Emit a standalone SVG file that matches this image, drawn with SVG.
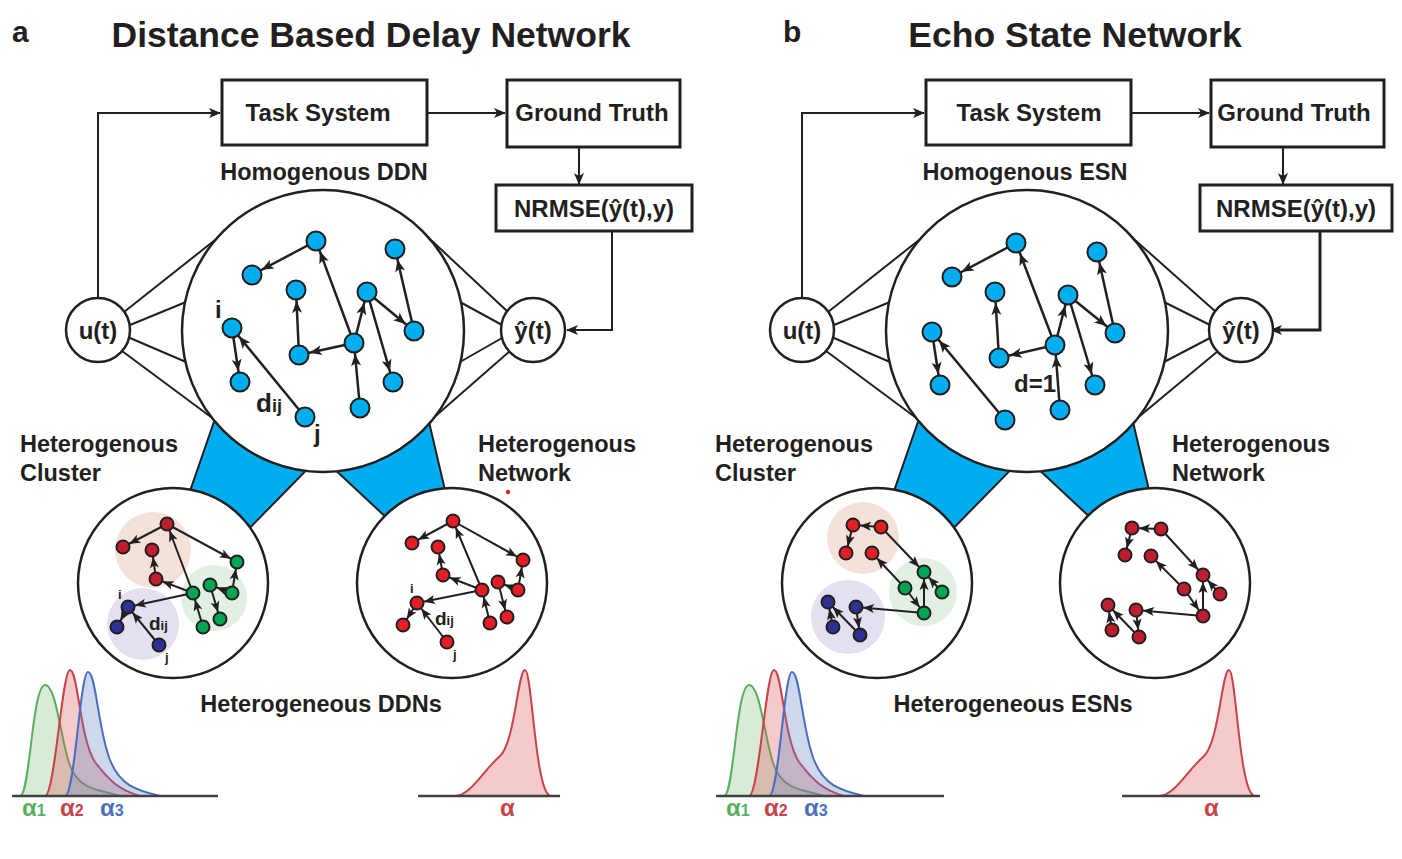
<svg xmlns="http://www.w3.org/2000/svg" width="1402" height="859" viewBox="0 0 1402 859">
<defs>
<style>
text{font-family:"Liberation Sans",Arial,sans-serif;font-weight:bold;fill:#231f20}
.t{font-size:35.5px}.lbl{font-size:30px}.bx{font-size:24px}.h{font-size:23.5px}
.box{fill:#fff;stroke:#231f20;stroke-width:3}
.ln{fill:none;stroke:#231f20;stroke-width:2}
.big{fill:#fff;stroke:#231f20;stroke-width:2.5}
.e{stroke:#231f20;stroke-width:2.5;marker-end:url(#ab)}
.es{stroke:#231f20;stroke-width:2;marker-end:url(#as)}
.nb{fill:#00aeef;stroke:#231f20;stroke-width:2}
.nr{fill:#e31e24;stroke:#231f20;stroke-width:2}
.nd{fill:#be1e2d;stroke:#231f20;stroke-width:2}
.ng{fill:#00a651;stroke:#231f20;stroke-width:2}
.nv{fill:#2e3192;stroke:#231f20;stroke-width:2}
.trap{fill:#00aeef;stroke:#231f20;stroke-width:2}
.al{font-size:24px}.sub{font-size:16px}
</style>
<marker id="ab" markerUnits="userSpaceOnUse" markerWidth="30" markerHeight="20" refX="23" refY="0" viewBox="-2 -8 30 16" orient="auto" overflow="visible"><path d="M0,-5 L12,0 L0,5 L3,0z" fill="#231f20"/></marker>
<marker id="as" markerUnits="userSpaceOnUse" markerWidth="30" markerHeight="20" refX="18" refY="0" viewBox="-2 -8 30 16" orient="auto" overflow="visible"><path d="M0,-4.5 L11,0 L0,4.5 L2.5,0z" fill="#231f20"/></marker>
<marker id="af" markerUnits="userSpaceOnUse" markerWidth="20" markerHeight="20" refX="11" refY="0" viewBox="-2 -8 20 16" orient="auto" overflow="visible"><path d="M0,-5 L12,0 L0,5 L3,0z" fill="#231f20"/></marker>
</defs>

<!-- PANEL A -->
<g id="panel-a">
<text x="12" y="42" class="lbl">a</text>
<text x="371" y="47" class="t" text-anchor="middle">Distance Based Delay Network</text>
<g id="connectors-a">
<polyline class="ln" points="98,298 98,113 220,113" marker-end="url(#af)"/>
<line class="ln" x1="427" y1="113" x2="505" y2="113" marker-end="url(#af)"/>
<line class="ln" x1="579" y1="147" x2="579" y2="184" marker-end="url(#af)"/>
<polyline class="ln" points="612,231 612,330 567,330" marker-end="url(#af)"/>
<line class="ln" x1="124" y1="312" x2="215" y2="240"/>
<line class="ln" x1="130" y1="325" x2="186" y2="302"/>
<line class="ln" x1="130" y1="338" x2="186" y2="362"/>
<line class="ln" x1="122" y1="351" x2="215" y2="420"/>
<line class="ln" x1="508" y1="312" x2="431" y2="240"/>
<line class="ln" x1="502" y1="325" x2="460" y2="302"/>
<line class="ln" x1="502" y1="338" x2="460" y2="362"/>
<line class="ln" x1="510" y1="351" x2="431" y2="420"/>
</g>
<g id="task-a"><rect class="box" x="222" y="80" width="205" height="65"/><text x="318" y="121" class="bx" text-anchor="middle">Task System</text></g>
<g id="gt-a"><rect class="box" x="507" y="80" width="173" height="67"/><text x="592" y="121" class="bx" text-anchor="middle">Ground Truth</text></g>
<g id="nrmse-a"><rect class="box" x="496" y="185" width="196" height="46"/><text x="594" y="217" class="bx" text-anchor="middle">NRMSE(ŷ(t),y)</text></g>
<path class="trap" d="M225,390 L330,446 L235,543 L180,520 Z"/>
<path class="trap" d="M316,452 L422,392 L452,520 L405,535 Z"/>
<g id="ddn-a"><circle class="big" cx="323" cy="331" r="141"/></g>
<g id="u-a"><circle class="big" cx="98" cy="330" r="32"/><text x="98" y="339" class="bx" text-anchor="middle">u(t)</text></g>
<g id="y-a"><circle class="big" cx="533" cy="330" r="32"/><text x="533" y="339" class="bx" text-anchor="middle">ŷ(t)</text></g>
<text x="324" y="180" class="h" text-anchor="middle">Homogenous DDN</text>
<g id="edges-a">
<line class="e" x1="316" y1="241" x2="252" y2="275"/>
<line class="e" x1="354" y1="343" x2="316" y2="241"/>
<line class="e" x1="299" y1="355" x2="296" y2="290"/>
<line class="e" x1="354" y1="343" x2="299" y2="355"/>
<line class="e" x1="354" y1="343" x2="367" y2="292"/>
<line class="e" x1="367" y1="292" x2="414" y2="331"/>
<line class="e" x1="414" y1="331" x2="395" y2="249"/>
<line class="e" x1="367" y1="292" x2="393" y2="382"/>
<line class="e" x1="360" y1="408" x2="354" y2="343"/>
<line class="e" x1="232" y1="328" x2="240" y2="382"/>
<line class="e" x1="305" y1="417" x2="232" y2="328"/>
</g>
<g id="nodes-a">
<circle class="nb" cx="316" cy="241" r="9.5"/><circle class="nb" cx="252" cy="275" r="9.5"/><circle class="nb" cx="296" cy="290" r="9.5"/>
<circle class="nb" cx="395" cy="249" r="9.5"/><circle class="nb" cx="367" cy="292" r="9.5"/><circle class="nb" cx="232" cy="328" r="9.5"/>
<circle class="nb" cx="240" cy="382" r="9.5"/><circle class="nb" cx="299" cy="355" r="9.5"/><circle class="nb" cx="354" cy="343" r="9.5"/>
<circle class="nb" cx="414" cy="331" r="9.5"/><circle class="nb" cx="393" cy="382" r="9.5"/><circle class="nb" cx="360" cy="408" r="9.5"/>
<circle class="nb" cx="305" cy="417" r="9.5"/>
</g>
<text x="215" y="318" class="bx">i</text>
<text x="256" y="412" style="font-size:26px">d<tspan style="font-size:18px">ij</tspan></text>
<text x="314" y="442" class="bx">j</text>
<text x="20" y="452" class="h">Heterogenous</text><text x="20" y="481" class="h">Cluster</text>
<text x="478" y="452" class="h">Heterogenous</text><text x="478" y="481" class="h">Network</text>
<circle cx="508" cy="492" r="2.2" fill="#e31e24"/>

<g id="cluster-a">
<circle class="big" cx="173" cy="583" r="95"/>
<circle cx="153" cy="550" r="38" fill="#f4e1da"/>
<circle cx="214" cy="598" r="33" fill="#e2f0e3"/>
<circle cx="143" cy="624" r="36" fill="#e1e1ef"/>
<line class="es" x1="167" y1="524" x2="123" y2="547"/>
<line class="es" x1="167" y1="524" x2="237" y2="562"/>
<line class="es" x1="193" y1="593" x2="167" y2="524"/>
<line class="es" x1="156" y1="579" x2="152" y2="550"/>
<line class="es" x1="193" y1="593" x2="156" y2="579"/>
<line class="es" x1="193" y1="593" x2="128" y2="607"/>
<line class="es" x1="128" y1="607" x2="117" y2="627"/>
<line class="es" x1="159" y1="645" x2="128" y2="607"/>
<line class="es" x1="203" y1="627" x2="193" y2="593"/>
<line class="es" x1="210" y1="585" x2="220" y2="619"/>
<line class="es" x1="232" y1="593" x2="210" y2="585"/>
<line class="es" x1="232" y1="593" x2="237" y2="562"/>
<circle class="nd" cx="167" cy="524" r="6.5"/><circle class="nd" cx="123" cy="547" r="6.5"/><circle class="nd" cx="152" cy="550" r="6.5"/><circle class="nd" cx="156" cy="579" r="6.5"/>
<circle class="ng" cx="237" cy="562" r="6.5"/><circle class="ng" cx="210" cy="585" r="6.5"/><circle class="ng" cx="232" cy="593" r="6.5"/><circle class="ng" cx="193" cy="593" r="6.5"/><circle class="ng" cx="203" cy="627" r="6.5"/><circle class="ng" cx="220" cy="619" r="6.5"/>
<circle class="nv" cx="128" cy="607" r="6.5"/><circle class="nv" cx="117" cy="627" r="6.5"/><circle class="nv" cx="159" cy="645" r="6.5"/>
<text x="118" y="599" style="font-size:13px">i</text>
<text x="149" y="630" style="font-size:19px">d<tspan style="font-size:13px">ij</tspan></text>
<text x="165" y="662" style="font-size:13px">j</text>
</g>

<g id="network-a">
<circle class="big" cx="452" cy="583" r="95"/>
<line class="es" x1="453" y1="521" x2="412" y2="543"/>
<line class="es" x1="453" y1="521" x2="523" y2="560"/>
<line class="es" x1="482" y1="590" x2="453" y2="521"/>
<line class="es" x1="443" y1="575" x2="438" y2="547"/>
<line class="es" x1="482" y1="590" x2="443" y2="575"/>
<line class="es" x1="482" y1="590" x2="417" y2="603"/>
<line class="es" x1="417" y1="603" x2="403" y2="625"/>
<line class="es" x1="447" y1="642" x2="417" y2="603"/>
<line class="es" x1="490" y1="623" x2="482" y2="590"/>
<line class="es" x1="498" y1="582" x2="507" y2="617"/>
<line class="es" x1="518" y1="590" x2="498" y2="582"/>
<line class="es" x1="518" y1="590" x2="523" y2="560"/>
<circle class="nr" cx="453" cy="521" r="6.5"/><circle class="nr" cx="412" cy="543" r="6.5"/><circle class="nr" cx="438" cy="547" r="6.5"/><circle class="nr" cx="443" cy="575" r="6.5"/>
<circle class="nr" cx="482" cy="590" r="6.5"/><circle class="nr" cx="523" cy="560" r="6.5"/><circle class="nr" cx="498" cy="582" r="6.5"/><circle class="nr" cx="518" cy="590" r="6.5"/>
<circle class="nr" cx="507" cy="617" r="6.5"/><circle class="nr" cx="417" cy="603" r="6.5"/><circle class="nr" cx="403" cy="625" r="6.5"/><circle class="nr" cx="490" cy="623" r="6.5"/><circle class="nr" cx="447" cy="642" r="6.5"/>
<text x="410" y="593" style="font-size:13px">i</text>
<text x="435" y="625" style="font-size:19px">d<tspan style="font-size:13px">ij</tspan></text>
<text x="453" y="659" style="font-size:13px">j</text>
</g>
<text x="321" y="712" class="h" text-anchor="middle">Heterogeneous DDNs</text>

<g id="dist-a">
<path d="M20,796 C30,796 32,686 45,685 C58,684 62,760 75,775 C85,790 100,790 120,796 Z" fill="#60b060" fill-opacity="0.25" stroke="#5aae61" stroke-width="2"/>
<path d="M45,796 C55,796 62,670 70,670 C78,670 80,740 95,762 C110,782 120,790 140,796 Z" fill="#d9534f" fill-opacity="0.3" stroke="#c9434a" stroke-width="2"/>
<path d="M65,796 C75,796 80,672 88,672 C96,672 98,730 110,760 C120,785 135,790 160,796 Z" fill="#5b7ec4" fill-opacity="0.3" stroke="#4a6fbf" stroke-width="2"/>
<line x1="12" y1="796" x2="218" y2="796" stroke="#414042" stroke-width="2.5"/>
<text x="22" y="816" class="al" style="fill:#5aae61">α<tspan class="sub">1</tspan></text>
<text x="60" y="816" class="al" style="fill:#c9434a">α<tspan class="sub">2</tspan></text>
<text x="100" y="816" class="al" style="fill:#4a6fbf">α<tspan class="sub">3</tspan></text>
<path d="M455,796 C470,796 482,772 500,756 C515,742 518,670 525,670 C532,670 535,790 550,796 Z" fill="#d9534f" fill-opacity="0.3" stroke="#c9434a" stroke-width="2"/>
<line x1="418" y1="796" x2="560" y2="796" stroke="#414042" stroke-width="2.5"/>
<text x="500" y="816" class="al" style="fill:#c9434a">α</text>
</g>
</g>

<!-- PANEL B -->
<g id="panel-b">
<text x="783" y="42" class="lbl">b</text>
<text x="1075" y="47" class="t" text-anchor="middle">Echo State Network</text>
<g transform="translate(704,0)">
<g id="connectors-b">
<polyline class="ln" points="98,298 98,113 220,113" marker-end="url(#af)"/>
<line class="ln" x1="427" y1="113" x2="505" y2="113" marker-end="url(#af)"/>
<line class="ln" x1="579" y1="147" x2="579" y2="184" marker-end="url(#af)"/>
<polyline class="ln" style="stroke-width:3" points="616,231 616,330 567,330" marker-end="url(#af)"/>
<line class="ln" x1="124" y1="312" x2="215" y2="240"/>
<line class="ln" x1="130" y1="325" x2="186" y2="302"/>
<line class="ln" x1="130" y1="338" x2="186" y2="362"/>
<line class="ln" x1="122" y1="351" x2="215" y2="420"/>
<line class="ln" x1="512" y1="312" x2="431" y2="240"/>
<line class="ln" x1="506" y1="325" x2="460" y2="302"/>
<line class="ln" x1="506" y1="338" x2="460" y2="362"/>
<line class="ln" x1="514" y1="351" x2="431" y2="420"/>
</g>
<g id="task-b"><rect class="box" x="222" y="80" width="205" height="65"/><text x="325" y="121" class="bx" text-anchor="middle">Task System</text></g>
<g id="gt-b"><rect class="box" x="507" y="80" width="173" height="67"/><text x="590" y="121" class="bx" text-anchor="middle">Ground Truth</text></g>
<g id="nrmse-b"><rect class="box" x="496" y="185" width="192" height="46"/><text x="592" y="217" class="bx" text-anchor="middle">NRMSE(ŷ(t),y)</text></g>
<path class="trap" d="M225,390 L330,446 L235,543 L180,520 Z"/>
<path class="trap" d="M316,452 L422,392 L452,520 L405,535 Z"/>
<g id="esn-b"><circle class="big" cx="323" cy="331" r="141"/></g>
<g id="u-b"><circle class="big" cx="98" cy="330" r="32"/><text x="98" y="339" class="bx" text-anchor="middle">u(t)</text></g>
<g id="y-b"><circle class="big" cx="537" cy="330" r="32"/><text x="537" y="339" class="bx" text-anchor="middle">ŷ(t)</text></g>
<text x="321" y="180" class="h" text-anchor="middle">Homogenous ESN</text>
</g>
<g id="edges-b">
<line class="e" x1="1016" y1="243" x2="952" y2="277"/>
<line class="e" x1="1055" y1="345" x2="1016" y2="243"/>
<line class="e" x1="999" y1="358" x2="995" y2="292"/>
<line class="e" x1="1055" y1="345" x2="999" y2="358"/>
<line class="e" x1="1055" y1="345" x2="1068" y2="295"/>
<line class="e" x1="1068" y1="295" x2="1115" y2="333"/>
<line class="e" x1="1115" y1="333" x2="1097" y2="252"/>
<line class="e" x1="1068" y1="295" x2="1095" y2="385"/>
<line class="e" x1="1060" y1="410" x2="1055" y2="345"/>
<line class="e" x1="932" y1="332" x2="940" y2="385"/>
<line class="e" x1="1005" y1="420" x2="932" y2="332"/>
</g>
<g id="nodes-b">
<circle class="nb" cx="1016" cy="243" r="9.5"/><circle class="nb" cx="952" cy="277" r="9.5"/><circle class="nb" cx="995" cy="292" r="9.5"/>
<circle class="nb" cx="1097" cy="252" r="9.5"/><circle class="nb" cx="1068" cy="295" r="9.5"/><circle class="nb" cx="932" cy="332" r="9.5"/>
<circle class="nb" cx="940" cy="385" r="9.5"/><circle class="nb" cx="999" cy="358" r="9.5"/><circle class="nb" cx="1055" cy="345" r="9.5"/>
<circle class="nb" cx="1115" cy="333" r="9.5"/><circle class="nb" cx="1095" cy="385" r="9.5"/><circle class="nb" cx="1060" cy="410" r="9.5"/>
<circle class="nb" cx="1005" cy="420" r="9.5"/>
</g>
<text x="1014" y="392" class="bx">d=1</text>
<text x="715" y="452" class="h">Heterogenous</text><text x="715" y="481" class="h">Cluster</text>
<text x="1172" y="452" class="h">Heterogenous</text><text x="1172" y="481" class="h">Network</text>

<g id="cluster-b">
<circle class="big" cx="877" cy="583" r="95"/>
<circle cx="863" cy="538" r="36" fill="#f4e1da"/>
<circle cx="923" cy="592" r="34" fill="#e2f0e3"/>
<circle cx="848" cy="617" r="37" fill="#e1e1ef"/>
<line class="es" x1="881" y1="527" x2="853" y2="525"/>
<line class="es" x1="853" y1="525" x2="846" y2="553"/>
<line class="es" x1="905" y1="588" x2="872" y2="553"/>
<line class="es" x1="881" y1="527" x2="924" y2="572"/>
<line class="es" x1="905" y1="588" x2="924" y2="613"/>
<line class="es" x1="924" y1="613" x2="924" y2="572"/>
<line class="es" x1="942" y1="592" x2="924" y2="572"/>
<line class="es" x1="924" y1="613" x2="856" y2="607"/>
<line class="es" x1="856" y1="607" x2="860" y2="635"/>
<line class="es" x1="860" y1="635" x2="828" y2="602"/>
<line class="es" x1="833" y1="627" x2="828" y2="602"/>
<circle class="nr" cx="853" cy="525" r="6.5"/><circle class="nr" cx="881" cy="527" r="6.5"/><circle class="nr" cx="846" cy="553" r="6.5"/><circle class="nr" cx="872" cy="553" r="6.5"/>
<circle class="ng" cx="924" cy="572" r="6.5"/><circle class="ng" cx="905" cy="588" r="6.5"/><circle class="ng" cx="942" cy="592" r="6.5"/><circle class="ng" cx="924" cy="613" r="6.5"/>
<circle class="nv" cx="828" cy="602" r="6.5"/><circle class="nv" cx="856" cy="607" r="6.5"/><circle class="nv" cx="833" cy="627" r="6.5"/><circle class="nv" cx="860" cy="635" r="6.5"/>
</g>

<g id="network-b">
<circle class="big" cx="1155" cy="583" r="95"/>
<line class="es" x1="1161" y1="529" x2="1132" y2="528"/>
<line class="es" x1="1132" y1="528" x2="1125" y2="555"/>
<line class="es" x1="1184" y1="589" x2="1151" y2="556"/>
<line class="es" x1="1161" y1="529" x2="1203" y2="575"/>
<line class="es" x1="1184" y1="589" x2="1203" y2="616"/>
<line class="es" x1="1203" y1="616" x2="1203" y2="575"/>
<line class="es" x1="1220" y1="594" x2="1203" y2="575"/>
<line class="es" x1="1203" y1="616" x2="1136" y2="610"/>
<line class="es" x1="1136" y1="610" x2="1139" y2="637"/>
<line class="es" x1="1139" y1="637" x2="1108" y2="605"/>
<line class="es" x1="1112" y1="630" x2="1108" y2="605"/>
<circle class="nd" cx="1132" cy="528" r="6.5"/><circle class="nd" cx="1161" cy="529" r="6.5"/><circle class="nd" cx="1125" cy="555" r="6.5"/><circle class="nd" cx="1151" cy="556" r="6.5"/>
<circle class="nd" cx="1184" cy="589" r="6.5"/><circle class="nd" cx="1203" cy="575" r="6.5"/><circle class="nd" cx="1220" cy="594" r="6.5"/><circle class="nd" cx="1203" cy="616" r="6.5"/>
<circle class="nd" cx="1108" cy="605" r="6.5"/><circle class="nd" cx="1136" cy="610" r="6.5"/><circle class="nd" cx="1112" cy="630" r="6.5"/><circle class="nd" cx="1139" cy="637" r="6.5"/>
</g>
<text x="1013" y="712" class="h" text-anchor="middle">Heterogeneous ESNs</text>

<g id="dist-b" transform="translate(704,0)">
<path d="M20,796 C30,796 32,686 45,685 C58,684 62,760 75,775 C85,790 100,790 120,796 Z" fill="#60b060" fill-opacity="0.25" stroke="#5aae61" stroke-width="2"/>
<path d="M45,796 C55,796 62,670 70,670 C78,670 80,740 95,762 C110,782 120,790 140,796 Z" fill="#d9534f" fill-opacity="0.3" stroke="#c9434a" stroke-width="2"/>
<path d="M65,796 C75,796 80,672 88,672 C96,672 98,730 110,760 C120,785 135,790 160,796 Z" fill="#5b7ec4" fill-opacity="0.3" stroke="#4a6fbf" stroke-width="2"/>
<line x1="12" y1="796" x2="240" y2="796" stroke="#414042" stroke-width="2.5"/>
<text x="22" y="816" class="al" style="fill:#5aae61">α<tspan class="sub">1</tspan></text>
<text x="60" y="816" class="al" style="fill:#c9434a">α<tspan class="sub">2</tspan></text>
<text x="100" y="816" class="al" style="fill:#4a6fbf">α<tspan class="sub">3</tspan></text>
<path d="M455,796 C470,796 482,772 500,756 C515,742 518,670 525,670 C532,670 535,790 550,796 Z" fill="#d9534f" fill-opacity="0.3" stroke="#c9434a" stroke-width="2"/>
<line x1="418" y1="796" x2="556" y2="796" stroke="#414042" stroke-width="2.5"/>
<text x="500" y="816" class="al" style="fill:#c9434a">α</text>
</g>
</g>
</svg>
